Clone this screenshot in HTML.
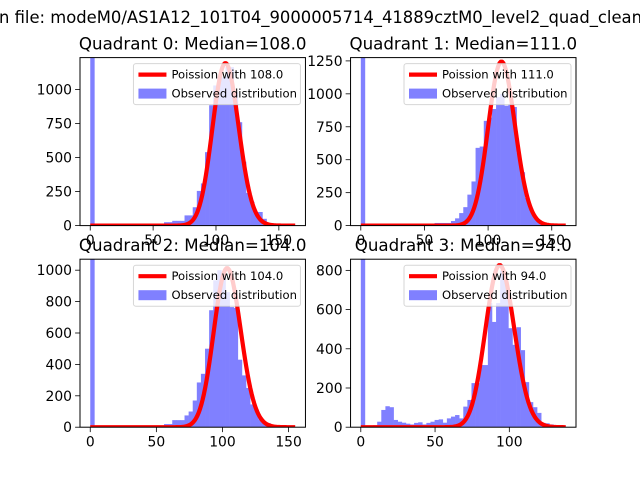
<!DOCTYPE html>
<html><head><meta charset="utf-8"><style>
html,body{margin:0;padding:0;background:#fff;}
svg{display:block;font-family:"DejaVu Sans","Liberation Sans",sans-serif;}
</style></head><body>
<svg id="fig" width="640" height="480" viewBox="0 0 640 480" xmlns="http://www.w3.org/2000/svg">
<rect x="0" y="0" width="640" height="480" fill="#fff"/>
<text x="-1" y="23" font-size="16.67" textLength="643" lengthAdjust="spacingAndGlyphs">n file: modeM0/AS1A12_101T04_9000005714_41889cztM0_level2_quad_clean</text>
</svg>
<script>
const titles = ["Quadrant 0: Median=108.0","Quadrant 1: Median=111.0","Quadrant 2: Median=104.0","Quadrant 3: Median=94.0"];
const lambdas = [108, 111, 104, 94];
const peakCounts = [1195, 1245, 1013, 827];
const dataMax = [163, 161, 155, 138];
const yMax = [1235, 1275, 1070, 857];
const yTicks = [[0,250,500,750,1000],[0,250,500,750,1000,1250],[0,200,400,600,800,1000],[0,200,400,600,800]];
const xTicks = [[0,50,100,150],[0,50,100,150],[0,50,100,150],[0,50,100]];
const counts0 = [3000,0,0,0,0,0,10,10,3,3,3,3,3,3,3,3,5,8,25,25,35,35,35,75,75,135,255,310,540,885,1030,1090,1090,1165,1165,980,760,470,240,175,100,100,50,20,10,5,3,3,2,1];
const counts1 = [3000,0,0,0,0,0,0,0,0,0,0,0,0,0,0,0,3,8,20,20,20,20,35,55,95,140,235,335,590,600,795,820,885,975,1000,910,920,900,550,405,210,130,60,25,10,5,3,2,1,1];
const counts2 = [3000,0,0,0,0,0,0,0,0,0,0,0,0,0,0,3,5,10,20,20,45,45,45,75,100,170,285,340,500,745,935,1000,980,860,765,760,430,330,250,145,115,50,30,25,10,5,3,2,1,1];
const counts3 = [3000,0,3,10,28,88,107,102,37,28,23,18,14,22,25,14,22,28,37,40,23,45,54,62,45,105,139,225,225,317,317,633,537,633,800,740,505,420,510,393,230,128,102,73,22,20,14,8,5,3];
const allCounts = [counts0, counts1, counts2, counts3];

const NS = "http://www.w3.org/2000/svg";
const svg = document.getElementById("fig");
function mk(tag, attrs, parent){ const e=document.createElementNS(NS,tag); for(const k in attrs) e.setAttribute(k,attrs[k]); (parent||svg).appendChild(e); return e; }
function lgamma(x){
  return (x-0.5)*Math.log(x) - x + 0.5*Math.log(2*Math.PI) + 1/(12*x) - 1/(360*x*x*x);
}
const axW = 225.45, axH = 168;
const lefts = [80, 350.55], tops = [57.6, 259.2];

for(let q=0;q<4;q++){
  const L = lefts[q%2], T = tops[Math.floor(q/2)], B = T+axH, R = L+axW;
  const D = dataMax[q];
  const x = v => L + axW*(v + 0.05*D)/(1.1*D);
  const y = c => B - axH*c/yMax[q];
  const g = mk("g",{});
  
  
  const clipId = "clip"+q;
  const cp = mk("clipPath",{id:clipId}, g);
  mk("rect",{x:L,y:T,width:axW,height:axH}, cp);
  const plot = mk("g",{"clip-path":"url(#"+clipId+")"}, g);
  const cts = allCounts[q];
  const bw = D/cts.length;
  cts.forEach((c,i)=>{
    if(c<=0) return;
    const x0 = x(i*bw), x1 = x((i+1)*bw);
    const r = mk("rect",{x:x0,y:y(c),width:x1-x0+0.3,height:B-y(c),fill:"#8080ff"}, plot);
    
    
  });
  const lam = lambdas[q], scale = peakCounts[q]*Math.sqrt(2*Math.PI*lam);
  let d="";
  for(let k=0;k<=D;k++){
    const lp = k*Math.log(lam) - lam - (k===0?0:lgamma(k+1));
    const v = scale*Math.exp(lp);
    d += (k===0?"M":"L")+x(k).toFixed(2)+","+y(v).toFixed(2);
  }
  const pl = mk("path",{d:d,fill:"none",stroke:"#ff0000","stroke-width":4.2,"stroke-linejoin":"round"}, plot);
  
  
  const fr = mk("rect",{x:L,y:T,width:axW,height:axH,fill:"none",stroke:"#000","stroke-width":1}, g);
  
  
  xTicks[q].forEach(t=>{
    mk("line",{x1:x(t),x2:x(t),y1:B,y2:B+4.9,stroke:"#000","stroke-width":0.8}, g);
    const tx = mk("text",{x:x(t),y:B+19.5,"font-size":13.9,"text-anchor":"middle"}, g);
    
    
    tx.textContent = t;
  });
  yTicks[q].forEach(t=>{
    mk("line",{x1:L-4.9,x2:L,y1:y(t),y2:y(t),stroke:"#000","stroke-width":0.8}, g);
    const tx = mk("text",{x:L-8,y:y(t)+5,"font-size":13.9,"text-anchor":"end"}, g);
    
    
    tx.textContent = t;
  });
  const tt = mk("text",{x:L+axW/2,y:T-8,"font-size":16.67,"text-anchor":"middle"}, g);
  
  
  tt.textContent = titles[q];
  const lg = mk("g",{}, g);
  
  
  const lx = R-172, ly = T+6;
  mk("rect",{x:lx,y:ly,width:167,height:41,rx:2.5,fill:"#fff","fill-opacity":0.8,stroke:"#ccc","stroke-opacity":0.8,"stroke-width":1}, lg);
  mk("line",{x1:lx+5,x2:lx+33,y1:ly+11,y2:ly+11,stroke:"#ff0000","stroke-width":4.2}, lg);
  const t1 = mk("text",{x:lx+38,y:ly+15,"font-size":11.6}, lg);
  
  
  t1.textContent = "Poission with " + lambdas[q].toFixed(1);
  mk("rect",{x:lx+5,y:ly+25,width:28,height:10,fill:"#8080ff"}, lg);
  const t2 = mk("text",{x:lx+38,y:ly+34,"font-size":11.6}, lg);
  
  
  t2.textContent = "Observed distribution";
}
</script>
</body></html>
